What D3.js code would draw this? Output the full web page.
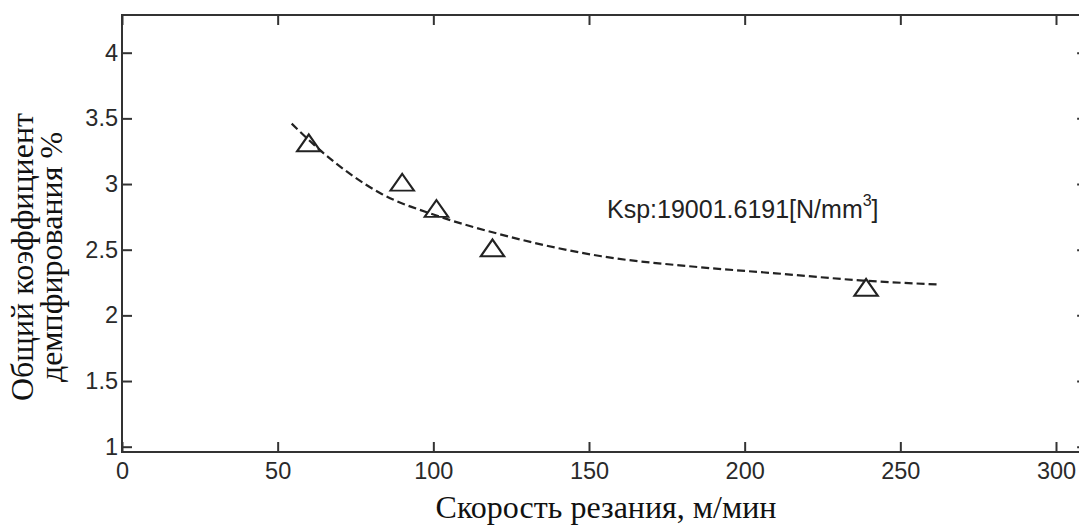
<!DOCTYPE html>
<html>
<head>
<meta charset="utf-8">
<script src="https://cdn.jsdelivr.net/npm/d3@7"></script>
<style>
  html, body { margin: 0; padding: 0; background: #fff; }
  svg { display: block; }
</style>
</head>
<body>
<svg id="chart" width="1079" height="532"></svg>
<script>
// ---- data ----
const speeds = [60, 90, 101, 119, 239];               // cutting speed, m/min
const damping = [3.3, 3.0, 2.8, 2.5, 2.2];           // total damping coefficient, %
const fitX = [54.5, 64, 83, 101, 121, 154, 184, 210, 238, 262];
const fitY = [3.46, 3.25, 2.93, 2.76, 2.62, 2.45, 2.37, 2.32, 2.265, 2.235];
const xTicks = [0, 50, 100, 150, 200, 250, 300];
const yTicks = [1, 1.5, 2, 2.5, 3, 3.5, 4];
const xTitle = "Скорость резания, м/мин";
const yTitle = ["Общий коэффициент", "демпфирования %"];
const annotation = { main: "Ksp:19001.6191[N/mm", sup: "3", tail: "]" };

// ---- layout ----
const svg = d3.select("#chart");
const plotL = 122, plotT = 15, plotB = 452;
const x = d3.scaleLinear().domain([0, 300]).range([122, 1056]);
const y = d3.scaleLinear().domain([1, 4]).range([446.7, 52.7]);
const plotR = x(310);
const ink = "#333";
const sans = "'Liberation Sans', Arial, sans-serif";
const serif = "'Liberation Serif', 'Times New Roman', serif";

// frame
svg.append("rect")
  .attr("x", plotL).attr("y", plotT)
  .attr("width", plotR - plotL).attr("height", plotB - plotT)
  .attr("fill", "none").attr("stroke", ink).attr("stroke-width", 2);

function styleAxis(g) {
  g.select(".domain").remove();
  g.selectAll(".tick line").attr("stroke", ink).attr("stroke-width", 2);
  g.selectAll(".tick text").attr("fill", "#2a2a2a")
    .style("font-family", sans).style("font-size", "23.5px");
}

svg.append("g").attr("transform", `translate(0,${plotB})`)
  .call(d3.axisBottom(x).tickValues(xTicks).tickSizeInner(-10).tickSizeOuter(0).tickPadding(10).tickFormat(d3.format("d")))
  .call(styleAxis);
svg.append("g").attr("transform", `translate(0,${plotT})`)
  .call(d3.axisTop(x).tickValues(xTicks).tickSizeInner(-10).tickSizeOuter(0).tickFormat(""))
  .call(styleAxis);
svg.append("g").attr("transform", `translate(${plotL},0)`)
  .call(d3.axisLeft(y).tickValues(yTicks).tickSizeInner(-10).tickSizeOuter(0).tickPadding(4).tickFormat(d => String(d)))
  .call(styleAxis);
svg.append("g").attr("transform", `translate(${plotR},0)`)
  .call(d3.axisRight(y).tickValues(yTicks).tickSizeInner(-10).tickSizeOuter(0).tickFormat(""))
  .call(styleAxis);

// fitted dashed curve
const fit = fitX.map((v, i) => [v, fitY[i]]);
svg.append("path")
  .datum(fit)
  .attr("d", d3.line().x(d => x(d[0])).y(d => y(d[1])).curve(d3.curveMonotoneX))
  .attr("fill", "none").attr("stroke", "#222").attr("stroke-width", 2.2)
  .attr("stroke-dasharray", "8,4");

// triangle markers
const tri = d3.symbol().type(d3.symbolTriangle).size(180);
svg.selectAll("path.pt")
  .data(speeds.map((v, i) => [v, damping[i]]))
  .join("path")
  .attr("class", "pt")
  .attr("d", tri)
  .attr("transform", d => `translate(${x(d[0])},${y(d[1]) + 1}) scale(1.15,0.95)`)
  .attr("fill", "none").attr("stroke", "#222").attr("stroke-width", 2);

// annotation
const ann = svg.append("text")
  .attr("x", 607).attr("y", 218)
  .style("font-family", sans).style("font-size", "25px").attr("fill", "#222");
ann.append("tspan").text(annotation.main);
ann.append("tspan").attr("dy", -12).style("font-size", "16px").text(annotation.sup);
ann.append("tspan").attr("dy", 12).text(annotation.tail);

// axis titles
svg.append("text")
  .attr("x", 606).attr("y", 518).attr("text-anchor", "middle")
  .style("font-family", serif).style("font-size", "32px").attr("fill", "#111")
  .text(xTitle);

const yt = svg.append("text")
  .attr("transform", "translate(0,257) rotate(-90)")
  .attr("text-anchor", "middle")
  .style("font-family", serif).style("font-size", "32px").attr("fill", "#111");
yt.append("tspan").attr("x", 0).attr("y", 33).text(yTitle[0]);
yt.append("tspan").attr("x", 0).attr("y", 62).text(yTitle[1]);
</script>
</body>
</html>
